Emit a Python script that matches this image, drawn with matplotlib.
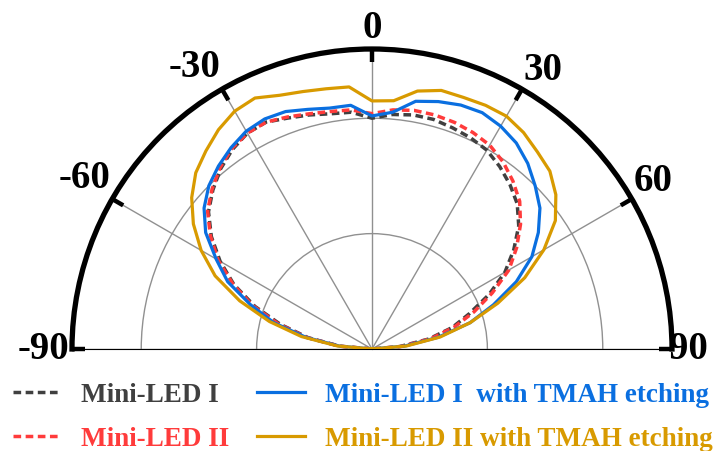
import numpy as np
import matplotlib
matplotlib.use("Agg")
import matplotlib.pyplot as plt

# Emission angle (deg) and normalised intensity for each sample
angles = [-90, -85, -80, -75, -70, -65, -60, -55, -50, -45, -40, -35, -30,
          -25, -20, -15, -10, -5, 0, 5, 10, 15, 20, 25, 30, 35, 40, 45, 50,
          55, 60, 65, 70, 75, 80, 85, 90]

led1 = [0, 0.14, 0.28, 0.41, 0.54, 0.66, 0.76, 0.85, 0.925, 0.975, 1.02,
        1.055, 1.08, 1.085, 1.065, 1.05, 1.035, 1.03, 1.0, 1.02, 1.03, 1.03,
        1.02, 1.01, 0.995, 0.965, 0.93, 0.89, 0.83, 0.75, 0.665, 0.56, 0.45,
        0.36, 0.25, 0.12, 0]
led2 = [0, 0.14, 0.285, 0.42, 0.55, 0.665, 0.77, 0.855, 0.93, 0.98, 1.025,
        1.06, 1.08, 1.085, 1.07, 1.055, 1.045, 1.04, 1.02, 1.04, 1.05, 1.05,
        1.045, 1.035, 1.02, 0.99, 0.95, 0.905, 0.84, 0.765, 0.685, 0.575,
        0.47, 0.37, 0.26, 0.13, 0]
led1_tmah = [0, 0.14, 0.29, 0.44, 0.56, 0.69, 0.78, 0.88, 0.95, 1.0, 1.035,
             1.065, 1.09, 1.10, 1.095, 1.075, 1.06, 1.06, 1.01, 1.03, 1.09,
             1.11, 1.125, 1.13, 1.115, 1.09, 1.05, 1.0, 0.95, 0.88, 0.80, 0.69,
             0.56, 0.44, 0.29, 0.14, 0]
led2_tmah = [0, 0.15, 0.31, 0.46, 0.61, 0.75, 0.855, 0.945, 1.02, 1.08, 1.12,
             1.16, 1.19, 1.20, 1.17, 1.155, 1.145, 1.14, 1.075, 1.08, 1.135,
             1.16, 1.16, 1.165, 1.165, 1.145, 1.115, 1.09, 1.04, 0.97, 0.86,
             0.73, 0.58, 0.44, 0.30, 0.15, 0]

tick_angles = [-90, -60, -30, 0, 30, 60, 90]
tick_labels = ["-90", "-60", "-30", "0", "30", "60", "90"]

names = ["Mini-LED I", "Mini-LED II", "Mini-LED I  with TMAH etching",
         "Mini-LED II with TMAH etching"]
colors = ["#404040", "#ff3b3b", "#0a6fe0", "#d89a00"]

serif = "Liberation Serif"
RMAX = 1.3

fig = plt.figure(figsize=(7.15, 4.52), dpi=100)
# square box: the half disc sits in its middle band
ax = fig.add_axes([72 / 715, -48 / 452, 600 / 715, 600 / 452], projection="polar")
ax.set_theta_zero_location("N")
ax.set_theta_direction(-1)
ax.set_thetamin(-90)
ax.set_thetamax(90)
ax.set_rlim(0, RMAX)

th = np.deg2rad(angles)
dash = (0, (2.2, 1.3))
h1, = ax.plot(th, led1, color=colors[0], lw=2.5, ls=dash, zorder=3)
h2, = ax.plot(th, led2, color=colors[1], lw=2.5, ls=dash, zorder=3)
h3, = ax.plot(th, led1_tmah, color=colors[2], lw=2.3, zorder=4)
h4, = ax.plot(th, led2_tmah, color=colors[3], lw=2.3, zorder=5)

# grid
ax.set_xticks(np.deg2rad(tick_angles))
ax.set_xticklabels([])
ax.set_yticks([0.5, 1.0])
ax.set_yticklabels([])
ax.grid(True, color="#909090", lw=1.0)
ax.tick_params(axis="both", length=0)
ax.spines["polar"].set_linewidth(3.8)
ax.spines["polar"].set_color("black")
for s in ("start", "end", "inner"):
    ax.spines[s].set_visible(False)

# short inward ticks on the outer rim
for a in tick_angles:
    t = np.deg2rad(a)
    ax.plot([t, t], [RMAX - 0.055, RMAX], color="black", lw=3.2,
            solid_capstyle="butt", clip_on=False, zorder=6)

# angle labels (slightly off the spokes, as laid out on the rim)
label_theta = [-90, -59.2, -32.1, 0, 31.5, 59.0, 90]
label_r = [1.31, 1.45, 1.445, 1.395, 1.42, 1.42, 1.285]
for a, r, lab in zip(label_theta, label_r, tick_labels):
    ha = "right" if a == -90 else ("left" if a == 90 else "center")
    ax.text(np.deg2rad(a), r, lab, ha=ha, va="center", family=serif,
            weight="bold", fontsize=28)

leg = fig.legend([h1, h2, h3, h4], names, ncol=2, loc="upper left",
                 bbox_to_anchor=(13 / 715, 0.1527), frameon=False,
                 prop={"family": serif, "weight": "bold", "size": 19.5},
                 handlelength=1.77, handletextpad=0.74, columnspacing=1.03,
                 labelspacing=0.72, borderpad=0, borderaxespad=0)
for t, c in zip(leg.get_texts(), colors):
    t.set_color(c)

fig.savefig("out.png", dpi=100)
